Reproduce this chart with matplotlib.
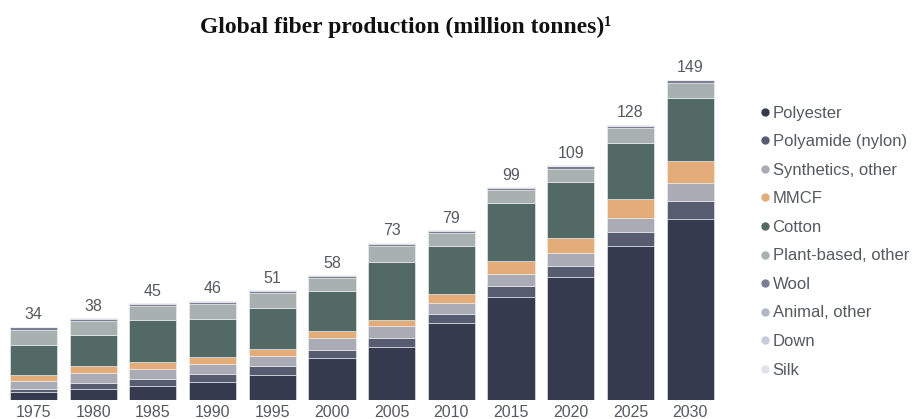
import matplotlib.pyplot as plt
from matplotlib.lines import Line2D
import numpy as np

plt.rcParams['font.family'] = ['Liberation Sans', 'DejaVu Sans']

years = ['1975', '1980', '1985', '1990', '1995', '2000',
         '2005', '2010', '2015', '2020', '2025', '2030']

polyester = [3.3, 4.9, 6.3, 8.0, 11.5, 19.2, 24.3, 35.8, 47.7, 56.9, 71.4, 84.0]
polyamide = [1.6, 2.8, 3.3, 3.9, 3.9, 3.9, 4.2, 4.2, 5.1, 5.5, 6.7, 8.6]
synthetics_other = [3.5, 4.5, 4.5, 4.7, 5.0, 5.5, 5.6, 5.1, 5.5, 5.9, 6.5, 8.1]
mmcf = [2.9, 3.5, 3.3, 3.1, 3.1, 3.1, 3.1, 4.2, 6.1, 6.9, 9.0, 10.6]
cotton = [13.9, 14.4, 19.5, 17.8, 19.2, 19.0, 27.0, 22.1, 26.9, 25.9, 26.0, 29.2]
plant_other = [7.2, 6.3, 6.5, 6.9, 6.7, 5.7, 7.2, 6.0, 6.1, 6.3, 6.8, 6.9]
wool = [1.2] * 12
animal_other = [0.2] * 12
down = [0.1] * 12
silk = [0.1] * 12

labels = ['Polyester', 'Polyamide (nylon)', 'Synthetics, other', 'MMCF', 'Cotton',
          'Plant-based, other', 'Wool', 'Animal, other', 'Down', 'Silk']
series = [polyester, polyamide, synthetics_other, mmcf, cotton,
          plant_other, wool, animal_other, down, silk]
colors = ['#353a4f', '#585c70', '#a9abb5', '#e3ac78', '#536965',
          '#a8b1b0', '#7c7f93', '#b0b6c8', '#c8ccd8', '#e0e2ea']

text_color = '#555a60'

fig = plt.figure(figsize=(9.16, 4.19), dpi=100)
ax = fig.add_axes([0.004, 0.0465, 0.782, 0.82])

x = np.arange(len(years))
bottom = np.zeros(len(years))
for vals, col, lab in zip(series, colors, labels):
    ax.bar(x, vals, 0.79, bottom=bottom, color=col, label=lab,
           edgecolor='#f2f2f4', linewidth=0.4)
    bottom += np.array(vals)

# totals above each stack
for xi, tot in zip(x, bottom):
    ax.text(xi, tot + 2.0, f'{tot:.0f}', ha='center', va='bottom',
            fontsize=11.5, color=text_color)

ax.set_xlim(-0.5, 11.5)
ax.set_ylim(0, 160)
ax.set_xticks(x)
ax.set_xticklabels(years, fontsize=11.5, color=text_color)
ax.tick_params(axis='x', length=0, pad=4)
ax.set_yticks([])
for s in ax.spines.values():
    s.set_visible(False)

fig.text(0.443, 1 - 33 / 419, 'Global fiber production (million tonnes)\u00b9',
         ha='center', va='baseline', fontsize=17, fontweight='bold',
         family='Liberation Serif', color='#111111')

handles = [Line2D([], [], marker='o', linestyle='', markersize=5,
                  markerfacecolor=c, markeredgecolor=c) for c in colors]
leg = fig.legend(handles, labels, loc='upper left', bbox_to_anchor=(0.8297, 0.748),
                 frameon=False, fontsize=12, handlelength=0.6, handletextpad=0.15,
                 labelspacing=0.813, borderaxespad=0, borderpad=0)
for t in leg.get_texts():
    t.set_color(text_color)

fig.savefig('out.png', dpi=100)
